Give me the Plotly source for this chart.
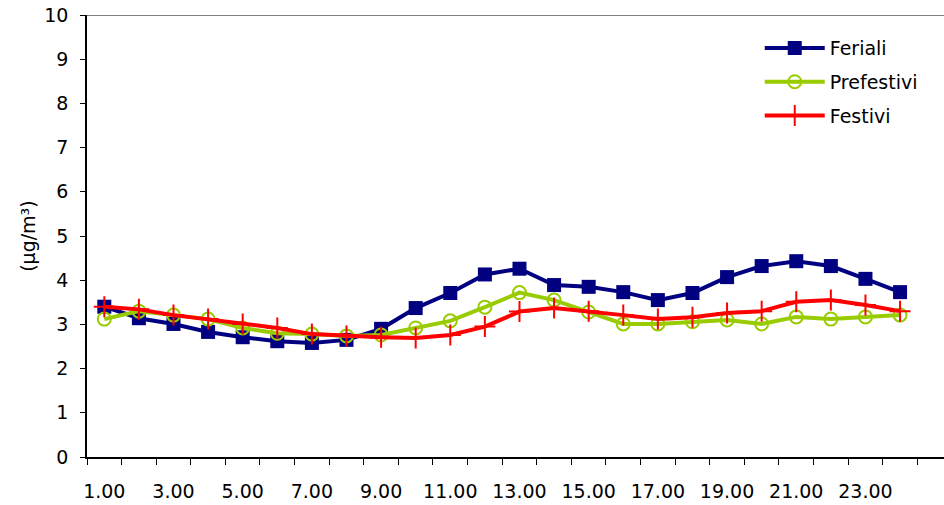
import plotly.graph_objects as go

hours = list(range(1, 25))
tick_vals = [1, 3, 5, 7, 9, 11, 13, 15, 17, 19, 21, 23]
tick_text = ["1.00", "3.00", "5.00", "7.00", "9.00", "11.00", "13.00", "15.00",
             "17.00", "19.00", "21.00", "23.00"]

feriali = [3.40, 3.14, 3.01, 2.83, 2.71, 2.62, 2.58, 2.65, 2.90, 3.37, 3.71, 4.13,
           4.26, 3.89, 3.85, 3.73, 3.55, 3.71, 4.07, 4.32, 4.43, 4.32, 4.03, 3.73]
prefestivi = [3.12, 3.30, 3.21, 3.12, 2.92, 2.80, 2.78, 2.74, 2.76, 2.92, 3.08, 3.39,
              3.72, 3.55, 3.28, 3.01, 3.01, 3.06, 3.10, 3.01, 3.17, 3.12, 3.17, 3.21]
festivi = [3.40, 3.34, 3.21, 3.12, 3.01, 2.92, 2.78, 2.74, 2.71, 2.69, 2.76, 2.95,
           3.29, 3.37, 3.30, 3.21, 3.12, 3.16, 3.26, 3.30, 3.51, 3.55, 3.44, 3.30]

FONT = "DejaVu Sans"
FS = 19

fig = go.Figure()
fig.add_trace(go.Scatter(
    x=hours, y=feriali, name="Feriali", mode="lines+markers", legendgroup="a",
    line=dict(color="#000080", width=4),
    marker=dict(symbol="square", size=14, color="#000080"),
))
fig.add_trace(go.Scatter(
    x=hours, y=prefestivi, name="Prefestivi", mode="lines+markers", legendgroup="b",
    line=dict(color="#99CC00", width=4),
    marker=dict(symbol="circle-open", size=13, color="#99CC00", line=dict(width=2, color="#99CC00")),
))
fig.add_trace(go.Scatter(
    x=hours, y=festivi, name="Festivi", mode="lines+markers", legendgroup="c",
    line=dict(color="#FF0000", width=4),
    marker=dict(symbol="cross-thin", size=15, color="#FF0000", line=dict(width=2, color="#FF0000")),
))

fig.add_shape(type="line", xref="paper", yref="y", x0=0, x1=1, y0=10, y1=10,
              line=dict(color="#808080", width=2))

fig.add_annotation(text="(µg/m³)", xref="paper", yref="paper", x=-0.069, y=0.5,
                   textangle=-90, showarrow=False, xanchor="center", yanchor="middle",
                   font=dict(family=FONT, size=FS, color="black"))

fig.update_layout(
    width=944, height=505,
    margin=dict(l=87, r=0, t=15, b=48),
    paper_bgcolor="white", plot_bgcolor="white",
    font=dict(family=FONT, size=FS, color="black"),
    showlegend=True,
    legend=dict(x=0.785, y=0.968, xanchor="left", yanchor="top",
                bgcolor="rgba(0,0,0,0)", font=dict(family=FONT, size=FS),
                itemwidth=60, tracegroupgap=6),
    xaxis=dict(range=[0.5, 25.27], tickmode="array", tickvals=tick_vals, ticktext=tick_text,
               ticks="", showgrid=False, zeroline=False, showline=True,
               linecolor="black", linewidth=2, ticklabelstandoff=16,
               minor=dict(tickmode="array", tickvals=[v + 0.5 for v in range(0, 26)],
                          ticks="outside", ticklen=6, tickcolor="black", tickwidth=1,
                          showgrid=False)),
    yaxis=dict(range=[0, 10], tickmode="linear", tick0=0, dtick=1,
               ticks="outside", ticklen=5, tickcolor="black", tickwidth=1,
               showgrid=False, zeroline=False, showline=True,
               linecolor="black", linewidth=1.5, ticklabelstandoff=8),
)

fig.write_html("out.html", config={"displayModeBar": False},
               post_script="document.body.style.margin='0';document.body.style.overflow='hidden';")
